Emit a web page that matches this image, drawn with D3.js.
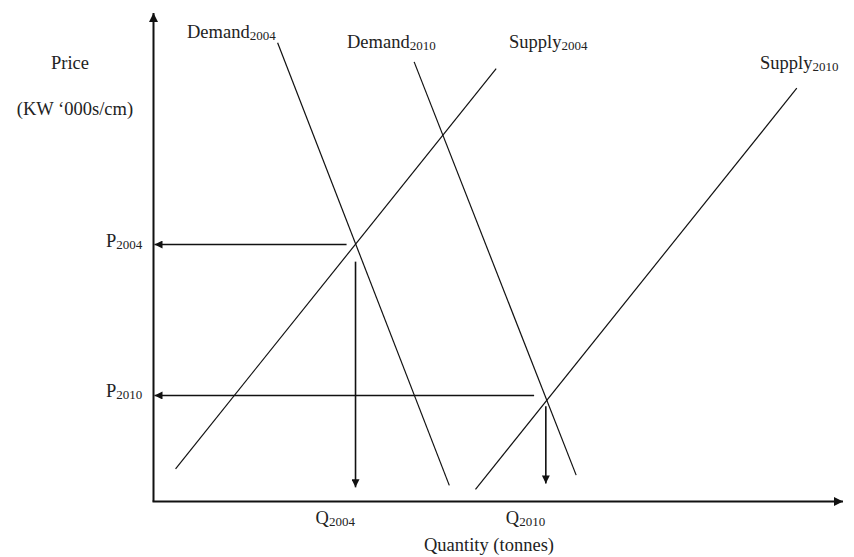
<!DOCTYPE html>
<html>
<head>
<meta charset="utf-8">
<script src="https://cdn.jsdelivr.net/npm/d3@7"></script>
<style>
  body { margin: 0; background: #fff; }
  text { font-family: "Liberation Serif", "Times New Roman", serif; fill: #222; }
</style>
</head>
<body>
<div id="chart"></div>
<script>
// curve end points, in chart units (0..100 on both axes)
var curveNames = ['Demand', 'Demand', 'Supply', 'Supply'];
var curveYears = ['2004', '2010', '2004', '2010'];
var curveStart = [[18.0, 93.9], [37.8, 90.0], [3.2, 6.7], [46.7, 2.5]];
var curveEnd = [[42.9, 3.3], [61.3, 5.4], [49.7, 88.6], [93.3, 84.6]];

// equilibrium readings: price level and quantity level per year
var eqYears = ['2004', '2010'];
var eqPrice = [52.6, 21.7];
var eqQuantity = [29.3, 56.9];
var priceArrowFrom = [28.0, 55.2];
var qtyArrowFrom = [49.1, 19.5];
var qtyArrowTo = [2.9, 3.7];

var axisTitleX = 'Quantity (tonnes)';
var axisTitleY = ['Price', '(KW \u2018000s/cm)'];

var width = 854, height = 557;
var fontMain = 18.5, fontSub = 13;

var svg = d3.select('#chart').append('svg')
    .attr('width', width)
    .attr('height', height);

var x = d3.scaleLinear().domain([0, 100]).range([153.5, 843]);
var y = d3.scaleLinear().domain([0, 100]).range([501.5, 13]);

var defs = svg.append('defs');
function marker(id, w, h) {
  defs.append('marker')
      .attr('id', id)
      .attr('viewBox', '0 0 10 10')
      .attr('refX', 10).attr('refY', 5)
      .attr('markerUnits', 'userSpaceOnUse')
      .attr('markerWidth', w).attr('markerHeight', h)
      .attr('orient', 'auto')
    .append('path')
      .attr('d', 'M0,0L10,5L0,10Z')
      .attr('fill', '#111');
}
marker('axisHead', 10, 9);
marker('head', 10, 8);

// axes
svg.append('line')
    .attr('x1', x(0)).attr('y1', y(0)).attr('x2', x(0)).attr('y2', y(100))
    .attr('stroke', '#111').attr('stroke-width', 2)
    .attr('marker-end', 'url(#axisHead)');
svg.append('line')
    .attr('x1', x(0) - 1).attr('y1', y(0)).attr('x2', x(100)).attr('y2', y(0))
    .attr('stroke', '#111').attr('stroke-width', 2)
    .attr('marker-end', 'url(#axisHead)');

// demand & supply curves
svg.selectAll('line.curve')
    .data(curveStart)
    .enter().append('line')
    .attr('class', 'curve')
    .attr('x1', function(d) { return x(d[0]); })
    .attr('y1', function(d) { return y(d[1]); })
    .attr('x2', function(d, i) { return x(curveEnd[i][0]); })
    .attr('y2', function(d, i) { return y(curveEnd[i][1]); })
    .attr('stroke', '#111').attr('stroke-width', 1.2);

// price arrows to the y axis
svg.selectAll('line.parrow')
    .data(eqPrice)
    .enter().append('line')
    .attr('class', 'parrow')
    .attr('x1', function(d, i) { return x(priceArrowFrom[i]); })
    .attr('y1', function(d) { return y(d); })
    .attr('x2', x(0) + 1)
    .attr('y2', function(d) { return y(d); })
    .attr('stroke', '#111').attr('stroke-width', 1.6)
    .attr('marker-end', 'url(#head)');

// quantity arrows down
svg.selectAll('line.qarrow')
    .data(eqQuantity)
    .enter().append('line')
    .attr('class', 'qarrow')
    .attr('x1', function(d) { return x(d); })
    .attr('y1', function(d, i) { return y(qtyArrowFrom[i]); })
    .attr('x2', function(d) { return x(d); })
    .attr('y2', function(d, i) { return y(qtyArrowTo[i]); })
    .attr('stroke', '#111').attr('stroke-width', 1.6)
    .attr('marker-end', 'url(#head)');

function subLabel(px, py, main, sub) {
  var t = svg.append('text')
      .attr('x', px).attr('y', py)
      .attr('font-size', fontMain);
  t.append('tspan').text(main);
  t.append('tspan').attr('font-size', fontSub).attr('dy', 2).text(sub);
  return t;
}

// curve labels
var curveLabelPos = [[187, 38], [347, 48], [509, 48], [760, 69]];
curveNames.forEach(function(n, i) {
  subLabel(curveLabelPos[i][0], curveLabelPos[i][1], n, curveYears[i]);
});

// price / quantity labels
eqYears.forEach(function(yr, i) {
  subLabel(106, y(eqPrice[i]) + 2, 'P', yr);
  subLabel(x(eqQuantity[i]) - 40, 524, 'Q', yr);
});

svg.append('text')
    .attr('x', 70).attr('y', 69)
    .attr('text-anchor', 'middle')
    .attr('font-size', fontMain)
    .text(axisTitleY[0]);
svg.append('text')
    .attr('x', 75).attr('y', 115)
    .attr('text-anchor', 'middle')
    .attr('font-size', fontMain)
    .text(axisTitleY[1]);
svg.append('text')
    .attr('x', 489).attr('y', 551)
    .attr('text-anchor', 'middle')
    .attr('font-size', fontMain)
    .text(axisTitleX);
</script>
</body>
</html>
